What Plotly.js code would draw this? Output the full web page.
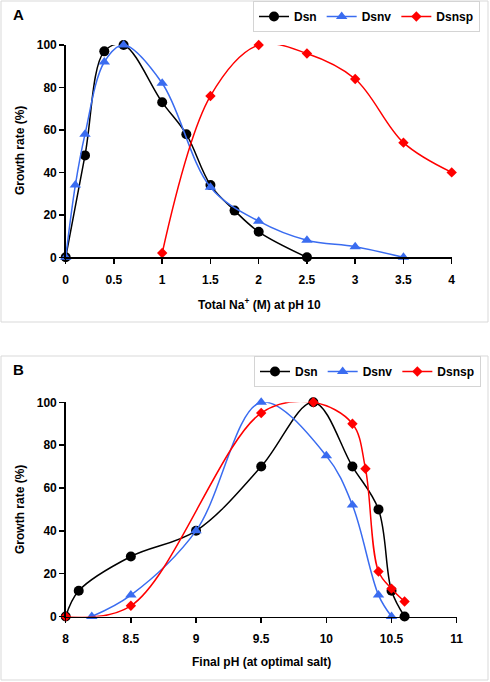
<!DOCTYPE html>
<html>
<head>
<meta charset="utf-8">
<script src="https://cdn.plot.ly/plotly-3.0.1.min.js"></script>
<style>html,body{margin:0;padding:0;background:#fff;}#chart{width:490px;height:682px;}</style>
</head>
<body>
<div id="chart"></div>
<script>
// Panel A: growth rate vs total Na+ (M) at pH 10
const naDsnX = [0, 0.2, 0.4, 0.6, 1, 1.25, 1.5, 1.75, 2, 2.5];
const naDsnY = [0, 48, 97, 100, 73, 58, 34, 22, 12, 0];
const naDsnvX = [0, 0.1, 0.2, 0.4, 0.6, 1, 1.5, 2, 2.5, 3, 3.5];
const naDsnvY = [0, 34, 58, 92, 100, 82, 33, 17, 8, 5, 0];
const naDsnspX = [1, 1.5, 2, 2.5, 3, 3.5, 4];
const naDsnspY = [2, 76, 100, 96, 84, 54, 40];

// Panel B: growth rate vs final pH (at optimal salt)
const phDsnX = [8, 8.1, 8.5, 9, 9.5, 9.9, 10.2, 10.4, 10.5, 10.6];
const phDsnY = [0, 12, 28, 40, 70, 100, 70, 50, 12, 0];
const phDsnvX = [8.2, 8.5, 9, 9.5, 10, 10.2, 10.4, 10.5];
const phDsnvY = [0, 10, 40, 100, 75, 52, 10, 0];
const phDsnspX = [8, 8.5, 9.5, 9.9, 10.2, 10.3, 10.4, 10.5, 10.6];
const phDsnspY = [0, 5, 95, 100, 90, 69, 21, 13, 7];

const seriesNames = ["Dsn", "Dsnv", "Dsnsp"];
const xTicksA = [0, 0.5, 1, 1.5, 2, 2.5, 3, 3.5, 4];
const xTicksB = [8, 8.5, 9, 9.5, 10, 10.5, 11];
const yTicks = [0, 20, 40, 60, 80, 100];

const W = 490, H = 682;
const px = v => v / W;
const py = v => 1 - v / H;

const colors = ["#000000", "#3a6cf0", "#ff0000"];
const symbols = ["circle", "triangle-up", "diamond"];
const msize = [10, 10, 8];

function tr(x, y, i, xa, ya, leg) {
  return {
    x: x, y: y, name: seriesNames[i], type: "scatter", mode: "lines+markers",
    xaxis: xa, yaxis: ya, legend: leg, cliponaxis: false,
    line: {color: colors[i], width: 1.5, shape: "spline", smoothing: 1},
    marker: {color: colors[i], symbol: symbols[i], size: msize[i], line: {width: 0}}
  };
}

const data = [
  tr(naDsnX, naDsnY, 0, "x", "y", "legend"),
  tr(naDsnvX, naDsnvY, 1, "x", "y", "legend"),
  tr(naDsnspX, naDsnspY, 2, "x", "y", "legend"),
  tr(phDsnX, phDsnY, 0, "x2", "y2", "legend2"),
  tr(phDsnvX, phDsnvY, 1, "x2", "y2", "legend2"),
  tr(phDsnspX, phDsnspY, 2, "x2", "y2", "legend2")
];

const tickFont = {family: "Liberation Sans, Arial, sans-serif", size: 12, color: "#000", weight: "bold"};
const axisCommon = {
  showgrid: false, zeroline: false, showline: true, linecolor: "#000", linewidth: 1.5,
  ticks: "outside", ticklen: 5, tickwidth: 1.5, tickcolor: "#000", tickfont: tickFont,
  fixedrange: true
};

const legendCommon = {
  orientation: "h", bgcolor: "#fff", bordercolor: "#d4d4d4", borderwidth: 1,
  font: {family: "Liberation Sans, Arial, sans-serif", size: 12, color: "#000", weight: "bold"},
  itemwidth: 30, xanchor: "right", yanchor: "top", tracegroupgap: 0
};

const titleFont = {family: "Liberation Sans, Arial, sans-serif", size: 12, color: "#000", weight: "bold"};

const layout = {
  width: W, height: H, margin: {l: 0, r: 0, t: 0, b: 0},
  paper_bgcolor: "#fff", plot_bgcolor: "rgba(0,0,0,0)",
  xaxis: Object.assign({}, axisCommon, {domain: [px(65.7), px(451.7)], range: [0, 4], tickvals: xTicksA, ticklabelstandoff: 6, anchor: "y"}),
  yaxis: Object.assign({}, axisCommon, {domain: [py(257.3), py(45)], range: [0, 100], tickvals: yTicks, anchor: "x"}),
  xaxis2: Object.assign({}, axisCommon, {domain: [px(65.7), px(456.7)], range: [8, 11], tickvals: xTicksB, ticklabelstandoff: 6, anchor: "y2"}),
  yaxis2: Object.assign({}, axisCommon, {domain: [py(616.5), py(402.3)], range: [0, 100], tickvals: yTicks, anchor: "x2"}),
  showlegend: true,
  legend: Object.assign({}, legendCommon, {x: px(480), y: py(1)}),
  legend2: Object.assign({}, legendCommon, {x: px(481), y: py(356)}),
  shapes: [
    {type: "rect", xref: "paper", yref: "paper", x0: px(1), x1: px(488), y0: py(322), y1: py(1), line: {color: "#d9d9d9", width: 1}, layer: "below"},
    {type: "rect", xref: "paper", yref: "paper", x0: px(1), x1: px(488), y0: py(680), y1: py(356), line: {color: "#d9d9d9", width: 1}, layer: "below"}
  ],
  annotations: [
    {text: "A", xref: "paper", yref: "paper", x: px(18), y: py(15), showarrow: false, xanchor: "center", yanchor: "middle", font: {family: "Liberation Sans, Arial, sans-serif", size: 15, color: "#000", weight: "bold"}},
    {text: "B", xref: "paper", yref: "paper", x: px(18), y: py(369), showarrow: false, xanchor: "center", yanchor: "middle", font: {family: "Liberation Sans, Arial, sans-serif", size: 15, color: "#000", weight: "bold"}},
    {text: "Total Na<sup>+</sup> (M) at pH 10", xref: "paper", yref: "paper", x: px(259), y: py(304), showarrow: false, xanchor: "center", yanchor: "middle", font: titleFont},
    {text: "Final pH (at optimal salt)", xref: "paper", yref: "paper", x: px(261), y: py(662), showarrow: false, xanchor: "center", yanchor: "middle", font: titleFont},
    {text: "Growth rate (%)", xref: "paper", yref: "paper", x: px(20), y: py(151), showarrow: false, textangle: -90, xanchor: "center", yanchor: "middle", font: titleFont},
    {text: "Growth rate (%)", xref: "paper", yref: "paper", x: px(20), y: py(510), showarrow: false, textangle: -90, xanchor: "center", yanchor: "middle", font: titleFont}
  ]
};

Plotly.newPlot("chart", data, layout, {displayModeBar: false, staticPlot: true});
</script>
</body>
</html>
